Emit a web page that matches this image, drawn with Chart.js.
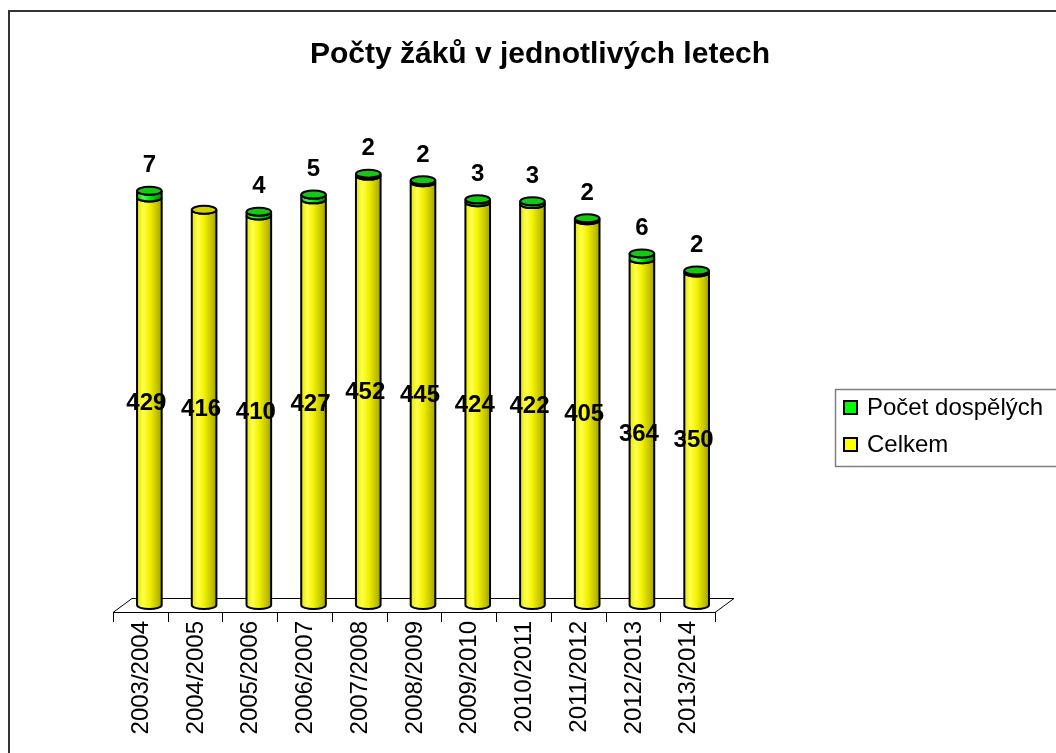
<!DOCTYPE html>
<html>
<head>
<meta charset="utf-8">
<script src="https://cdn.jsdelivr.net/npm/chart.js@4.4.1/dist/chart.umd.min.js"></script>
<style>
  html, body { margin: 0; padding: 0; background: #fff; }
  canvas { display: block; }
</style>
</head>
<body>
<canvas id="chart" width="1056" height="753"></canvas>
<script>
const FONT = "'Liberation Sans', Arial, sans-serif";

const categories = [
  "2003/2004", "2004/2005", "2005/2006", "2006/2007", "2007/2008", "2008/2009",
  "2009/2010", "2010/2011", "2011/2012", "2012/2013", "2013/2014",
];
const celkem = [429, 416, 410, 427, 452, 445, 424, 422, 405, 364, 350];
const dospeli = [7, 0, 4, 5, 2, 2, 3, 3, 2, 6, 2];

const YELLOW = [[0, "#e6e600"], [0.25, "#ffff4d"], [0.5, "#f2f200"], [0.78, "#c8c800"], [1, "#a3a300"]];
const GREEN = [[0, "#00c800"], [0.25, "#4dff4d"], [0.5, "#00f000"], [0.78, "#00b400"], [1, "#008c00"]];

// Cylinder body from top to bottom, front halves of both ellipses
function cylinder(ctx, x, w, top, bottom, stops) {
  const l = x - w / 2, r = x + w / 2, rx = w / 2, ry = 4;
  const g = ctx.createLinearGradient(l, 0, r, 0);
  stops.forEach(([o, c]) => g.addColorStop(o, c));

  ctx.beginPath();
  ctx.moveTo(l, top);
  ctx.lineTo(l, bottom);
  ctx.ellipse(x, bottom, rx, ry, 0, Math.PI, 0, true);
  ctx.lineTo(r, top);
  ctx.ellipse(x, top, rx, ry, 0, 0, Math.PI, false);
  ctx.closePath();
  ctx.fillStyle = g;
  ctx.fill();
  ctx.lineWidth = 2;
  ctx.strokeStyle = "#000";
  ctx.stroke();
}

function cap(ctx, x, w, y, color) {
  ctx.beginPath();
  ctx.ellipse(x, y, w / 2, 4, 0, 0, Math.PI * 2);
  ctx.fillStyle = color;
  ctx.fill();
  ctx.lineWidth = 2;
  ctx.strokeStyle = "#000";
  ctx.stroke();
}

const floorPlugin = {
  id: "floor",
  beforeDatasetsDraw(chart) {
    const { ctx, chartArea: a } = chart;
    const fl = a.left - 9, fr = a.right - 9, fy = a.bottom + 7;
    const bl = a.left + 10, br = a.right + 10, by = a.bottom - 7;
    const n = categories.length;

    ctx.save();
    ctx.strokeStyle = "#000";
    ctx.lineWidth = 1;
    ctx.beginPath();
    ctx.moveTo(fl, fy + 0.5); ctx.lineTo(fr, fy + 0.5);
    ctx.moveTo(bl, by + 0.5); ctx.lineTo(br, by + 0.5);
    ctx.moveTo(fl, fy + 0.5); ctx.lineTo(bl, by + 0.5);
    ctx.moveTo(fr, fy + 0.5); ctx.lineTo(br, by + 0.5);
    for (let i = 0; i <= n; i++) {
      const x = Math.round(fl + (fr - fl) * i / n) + 0.5;
      ctx.moveTo(x, fy);
      ctx.lineTo(x, fy + 10);
    }
    ctx.stroke();
    ctx.restore();
  },
};

const cylinderPlugin = {
  id: "cylinders",
  afterDatasetsDraw(chart) {
    const { ctx } = chart;
    const low = chart.getDatasetMeta(0).data;
    const high = chart.getDatasetMeta(1).data;

    ctx.save();
    low.forEach((el, i) => {
      const w = el.width;
      cylinder(ctx, el.x, w, el.y, el.base, YELLOW);

      const top = high[i];
      if (dospeli[i] > 0) {
        cylinder(ctx, top.x, w, top.y, top.base, GREEN);
        cap(ctx, top.x, w, top.y, "#14c814");
      } else {
        cap(ctx, el.x, w, el.y, "#d2d200");
      }
    });

    ctx.fillStyle = "#000";
    ctx.font = "bold 24px " + FONT;
    ctx.textAlign = "center";
    ctx.textBaseline = "middle";
    low.forEach((el, i) => {
      ctx.fillText(String(celkem[i]), el.x - 3, (el.y + el.base) / 2 + 2);
      if (dospeli[i] > 0) {
        ctx.fillText(String(dospeli[i]), high[i].x, high[i].y - 25);
      }
    });
    ctx.restore();
  },
};

const decorPlugin = {
  id: "decor",
  afterDraw(chart) {
    const { ctx } = chart;
    ctx.save();

    // outer frame
    ctx.strokeStyle = "#333";
    ctx.lineWidth = 2;
    ctx.strokeRect(9, 11, 1200, 900);

    // title
    ctx.fillStyle = "#000";
    ctx.font = "bold 30px " + FONT;
    ctx.textAlign = "center";
    ctx.textBaseline = "alphabetic";
    ctx.fillText("Počty žáků v jednotlivých letech", 540, 63);

    // legend
    ctx.strokeStyle = "#808080";
    ctx.lineWidth = 1.5;
    ctx.strokeRect(835.5, 389.5, 300, 77);

    const items = [
      { label: chart.data.datasets[1].label, color: "#00ff00", y: 401 },
      { label: chart.data.datasets[0].label, color: "#ffff00", y: 438 },
    ];
    ctx.font = "24px " + FONT;
    ctx.textAlign = "left";
    ctx.textBaseline = "middle";
    items.forEach((it) => {
      ctx.fillStyle = it.color;
      ctx.fillRect(844, it.y, 13, 13);
      ctx.strokeStyle = "#000";
      ctx.lineWidth = 2;
      ctx.strokeRect(844, it.y, 13, 13);
      ctx.fillStyle = "#000";
      ctx.fillText(it.label, 867, it.y + 7.5);
    });
    ctx.restore();
  },
};

new Chart(document.getElementById("chart"), {
  type: "bar",
  data: {
    labels: categories,
    datasets: [
      {
        label: "Celkem",
        data: celkem,
        backgroundColor: "rgba(0,0,0,0)",
        borderWidth: 0,
        barPercentage: 0.45,
        categoryPercentage: 1,
      },
      {
        label: "Počet dospělých",
        data: dospeli,
        backgroundColor: "rgba(0,0,0,0)",
        borderWidth: 0,
        barPercentage: 0.45,
        categoryPercentage: 1,
      },
    ],
  },
  options: {
    responsive: false,
    animation: false,
    devicePixelRatio: 1,
    layout: {
      padding: { top: 130, left: 122, right: 332, bottom: 0 },
    },
    plugins: {
      legend: { display: false },
      title: { display: false },
      tooltip: { enabled: false },
    },
    scales: {
      x: {
        stacked: true,
        grid: { display: false, drawTicks: false },
        border: { display: false },
        afterFit(scale) {
          scale.height = 148;
        },
        ticks: {
          autoSkip: false,
          minRotation: 90,
          maxRotation: 90,
          padding: 16,
          labelOffset: -8,
          color: "#000",
          font: { family: FONT, size: 24 },
        },
      },
      y: {
        stacked: true,
        display: false,
        min: 0,
        max: 500,
      },
    },
  },
  plugins: [floorPlugin, cylinderPlugin, decorPlugin],
});
</script>
</body>
</html>
